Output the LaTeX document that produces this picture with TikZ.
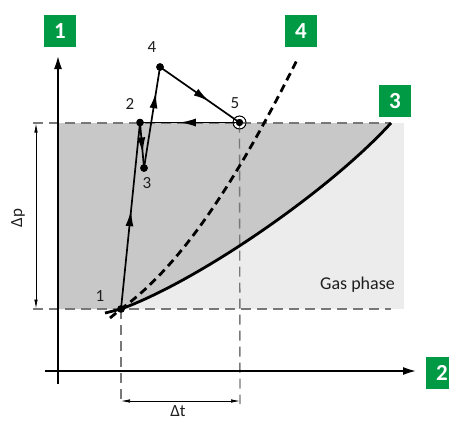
\documentclass[tikz,border=0pt]{standalone}
\usepackage{fontspec}
\setmainfont{Carlito}
\usetikzlibrary{arrows.meta,decorations.markings}
\definecolor{boxgreen}{RGB}{0,154,68}
\definecolor{darkfill}{RGB}{200,200,200}
\definecolor{lightfill}{RGB}{236,236,236}
\definecolor{guide}{RGB}{120,120,120}
\definecolor{labeltext}{RGB}{30,30,30}
\tikzset{
  badge/.style={fill=boxgreen, text=white, minimum size=32pt, inner sep=0pt,
    font=\fontsize{23}{23}\selectfont\bfseries},
  ptlabel/.style={text=labeltext, font=\fontsize{17}{17}\selectfont, inner sep=0pt},
  dot/.style={circle, fill=black, minimum size=7.5pt, inner sep=0pt},
  ringdot/.style={circle, draw=black, line width=0.7pt, fill=white, minimum size=13pt, inner sep=0pt},
  guideline/.style={draw=guide, line width=1.4pt, dash pattern=on 10pt off 6pt},
  axisline/.style={draw=black, line width=2.4pt, -{Latex[length=14pt,width=8pt]}},
  dimline/.style={draw=black, line width=0.7pt, {Latex[length=9pt,width=3.5pt]}-{Latex[length=9pt,width=3.5pt]}},
  solidcurve/.style={draw=black, line width=2.8pt},
  dashcurve/.style={draw=black, line width=2.8pt, dash pattern=on 8pt off 5pt},
  stepline/.style={draw=black, line width=1.7pt},
  midarrow/.style={postaction={decorate}, decoration={markings,
      mark=at position #1 with {\arrow{Latex[length=16pt,width=8pt]}}}},
}
\begin{document}
\begin{tikzpicture}[x=1pt,y=-1pt]
\useasboundingbox (0,0) rectangle (449,423);
\clip (0,0) rectangle (449,423);

% regions
\fill[lightfill] (58,123) rectangle (404,309);
\fill[darkfill] (58,123) -- (391,123) .. controls (330,190) and (200,280) .. (121,309) -- (58,309) -- cycle;

% coordinates
\coordinate (ytail) at (58,384);
\coordinate (yhead) at (58,55);
\coordinate (xtail) at (45,371);
\coordinate (xhead) at (417,371);
\coordinate (topL) at (33,123);
\coordinate (topR) at (391,123);
\coordinate (botL) at (33,309);
\coordinate (botR) at (391,309);
\coordinate (v1end) at (121,404);
\coordinate (v5end) at (240,404);
\coordinate (dpA) at (36,123.5);
\coordinate (dpB) at (36,308.5);
\coordinate (dtA) at (121,401);
\coordinate (dtB) at (240,401);
\coordinate (c3start) at (105,313);
\coordinate (c3end) at (391,123);
\coordinate (c4start) at (110,318);
\coordinate (c4end) at (297,60);

% points
\node[dot] (p1) at (121,309) {};
\node[dot] (p2) at (140,122.5) {};
\node[dot] (p3) at (144,168) {};
\node[dot] (p4) at (160,67) {};
\node[ringdot] (p5r) at (239.5,122.5) {};
\node[dot, minimum size=7pt] (p5) at (239.5,122.5) {};

% guide lines
\draw[guideline] (topL) -- (topR);
\draw[guideline] (botL) -- (botR);
\draw[guideline] (p1.center) -- (v1end);
\draw[guideline] (p5.center) -- (v5end);

% dimensions
\draw[dimline] (dpA) -- (dpB);
\draw[dimline] (dtA) -- (dtB);
\node[ptlabel, rotate=90] (dp) at (18,218) {Δp};
\node[ptlabel, anchor=north] (dt) at (178,405) {Δt};

% axes
\draw[axisline] (ytail) -- (yhead);
\draw[axisline] (xtail) -- (xhead);

% curves
\draw[solidcurve] (c3start) -- (p1.center) .. controls (200,280) and (330,190) .. (c3end);
\draw[dashcurve] (c4start) -- (p1.center) .. controls (182,265) and (237,180) .. (c4end);

% process path
\draw[stepline, midarrow=0.53] (p1.center) -- (p2.center);
\draw[stepline, midarrow=0.68] (p2.center) -- (p3.center);
\draw[stepline, midarrow=0.75] (p3.center) -- (p4.center);
\draw[stepline, midarrow=0.62] (p4.center) -- (p5.center);
\draw[stepline, midarrow=0.6] (p5.center) -- (p2.center);
\node[ringdot, fill=none] at (p5r) {};
\node[dot, minimum size=7pt] at (p5) {};
\node[dot] at (p2) {};
\node[dot] at (p3) {};
\node[dot] at (p4) {};
\node[dot] at (p1) {};

% point labels
\node[ptlabel] (l1) at (100,296) {1};
\node[ptlabel] (l2) at (130,104) {2};
\node[ptlabel] (l3) at (147,183) {3};
\node[ptlabel] (l4) at (152,47) {4};
\node[ptlabel] (l5) at (235,103) {5};
\node[ptlabel, anchor=east, font=\fontsize{18}{18}\selectfont] (gas) at (395,285) {Gas phase};

% badges
\node[badge] (b1) at (60,31) {1};
\node[badge] (b4) at (301,31) {4};
\node[badge] (b3) at (395,101) {3};
\node[badge] (b2) at (442,373) {2};
\end{tikzpicture}
\end{document}
